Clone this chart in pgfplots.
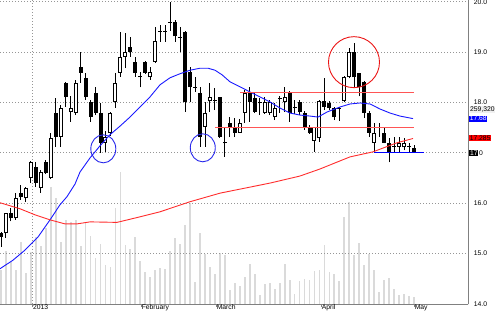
\documentclass[border=0pt]{standalone}
\usepackage{pgfplots}
\pgfplotsset{compat=1.18}
\usepackage{pgfplotstable}
\usepackage{fontspec}
\setmainfont{Liberation Sans}
\definecolor{volgray}{RGB}{218,218,218}
\definecolor{gridgray}{RGB}{150,150,150}
\definecolor{axgray}{RGB}{128,128,128}
\definecolor{maBlue}{RGB}{25,25,255}
\definecolor{maRed}{RGB}{255,45,45}
\definecolor{lnRed}{RGB}{255,85,85}
\definecolor{circRed}{RGB}{235,20,20}
\definecolor{circBlue}{RGB}{40,40,235}
\newcommand{\lblfont}{\fontsize{6.8}{7}\selectfont}

\pgfplotstableread{
k o h l c
1 15.40 15.81 15.31 15.80
3 15.70 16.20 15.67 16.10
5 16.10 16.33 16.03 16.30
6 16.50 16.83 16.40 16.81
8 16.30 16.66 16.21 16.62
10 16.50 17.40 16.48 17.29
12 17.32 17.95 17.12 17.90
14 17.81 18.12 17.62 17.90
15 17.80 18.45 17.75 18.39
21 17.20 17.43 17.02 17.31
22 17.40 17.82 17.34 17.80
23 18.00 18.59 17.90 18.39
24 18.59 19.39 18.51 18.90
25 18.90 19.38 18.68 19.00
30 18.50 18.71 18.45 18.61
31 18.80 19.49 18.78 19.22
41 17.51 18.00 17.12 17.80
42 18.02 18.38 17.82 18.10
48 17.40 17.68 17.39 17.60
49 17.80 18.25 17.60 18.19
53 17.80 18.10 17.78 18.00
54 17.80 18.05 17.75 18.00
55 17.71 17.98 17.65 17.90
57 18.00 18.31 17.82 18.10
63 17.24 17.52 17.02 17.51
64 17.29 18.05 17.22 18.02
69 18.02 18.52 18.00 18.50
70 18.50 19.08 18.48 19.01
75 17.20 17.59 17.02 17.40
80 17.12 17.32 17.02 17.20
81 17.11 17.29 17.05 17.20
}\up

\pgfplotstableread{
k o h l c
0 15.41 15.42 15.14 15.33
2 15.80 15.90 15.64 15.70
4 16.21 16.36 16.07 16.12
7 16.71 16.81 16.33 16.40
9 16.81 16.85 16.58 16.60
11 17.80 18.08 17.12 17.31
13 18.39 18.40 17.92 18.10
16 18.70 19.00 18.39 18.59
17 18.49 18.59 18.05 18.10
18 18.00 18.05 17.62 17.71
19 18.19 18.30 17.75 17.80
20 17.80 17.98 17.00 17.20
26 19.11 19.29 18.91 19.00
27 18.81 18.90 18.51 18.59
28 18.51 18.61 18.30 18.50
29 18.81 18.82 18.57 18.59
32 19.42 19.54 19.21 19.40
33 19.41 19.54 19.21 19.40
34 19.60 20.00 19.42 19.58
35 19.60 19.64 19.21 19.31
36 19.30 19.50 19.01 19.28
37 19.40 19.41 17.82 18.00
38 18.61 18.71 18.00 18.30
39 18.31 18.50 18.21 18.29
40 18.19 18.30 17.12 17.31
43 18.05 18.28 17.85 18.03
44 18.10 18.11 17.30 17.31
45 17.20 17.49 16.92 17.19
46 17.60 17.72 17.31 17.51
47 17.51 17.70 17.31 17.40
50 18.19 18.30 17.62 18.00
51 18.08 18.19 17.79 17.82
52 18.00 18.08 17.75 17.98
56 18.07 18.12 17.80 18.06
58 18.19 18.22 17.62 17.80
59 17.92 18.05 17.78 17.90
60 18.00 18.05 17.76 17.81
61 17.80 17.83 17.46 17.51
62 17.51 17.55 17.38 17.40
65 18.02 18.48 17.85 17.92
66 17.99 18.03 17.85 17.89
67 17.90 17.92 17.65 17.71
68 17.88 17.92 17.64 17.87
71 19.01 19.19 18.30 18.50
72 18.59 18.59 18.12 18.30
73 18.41 18.42 17.69 17.80
74 17.80 17.83 17.32 17.40
76 17.51 17.59 17.32 17.50
77 17.40 17.49 17.19 17.20
78 17.20 17.29 16.81 17.00
79 17.13 17.32 17.02 17.12
82 17.13 17.20 17.02 17.12
83 17.10 17.15 17.01 17.02
}\down

\pgfplotstableread{
k v
0 1326
1 2067
2 1638
3 1326
4 2430
5 1221
6 2040
7 2601
8 2274
9 2952
10 4575
11 4122
12 2430
13 3276
14 3210
15 3276
16 2262
17 3147
18 2652
19 1782
20 2340
21 1521
22 1431
23 3732
24 5160
25 2301
26 2145
27 2625
28 1677
29 1236
30 1065
31 1326
32 1392
33 1365
34 2067
35 2562
36 2328
37 3081
38 3927
39 870
40 2757
41 1950
42 1431
43 1170
44 1977
45 1911
46 546
47 831
48 702
49 1041
50 1548
51 1158
52 351
53 780
54 831
55 585
56 831
57 1560
58 936
59 390
60 897
61 975
62 936
63 1299
64 1326
65 2301
66 1260
67 1170
68 897
69 3405
70 3966
71 1911
72 2367
73 1521
74 1938
75 1326
76 456
77 936
78 1026
79 573
80 351
81 390
82 324
83 259
}\vol

\begin{document}
\begin{tikzpicture}
\useasboundingbox (0,0) rectangle (500bp,312bp);
\pgfplotsset{base/.style={width=468bp, height=304bp, scale only axis,
  at={(0,8bp)}, anchor=south west, xmin=-0.201, xmax=93.85, clip=false}}
% volume
\begin{axis}[base, ymin=0, ymax=11856, hide axis]
\addplot[ycomb, draw=volgray, line width=1.8bp] table[x=k, y=v] {\vol};
\end{axis}
% price
\begin{axis}[base, ymin=14, ymax=20.034,
  axis x line*=bottom, axis y line*=right,
  x axis line style={draw=axgray, line width=0.8bp},
  y axis line style={draw=axgray, line width=1bp},
  ytick={14,15,16,17,18,19,20},
  yticklabels={14.0,15.0,16.0,{},18.0,19.0,20.0},
  ytick style={draw=none},
  yticklabel style={font=\lblfont, anchor=west, inner sep=0pt, xshift=3.2bp},
  ymajorgrids, major grid style={draw=gridgray, line width=0.8bp, dash pattern=on 1bp off 2bp},
  xtick={6.29,28.14,43.21,64.31,83.0},
  xticklabels={2013,February,March,April,May},
  xtick style={draw=axgray, line width=0.7bp},
  tick align=outside, major tick length=2.5bp,
  xticklabel style={font=\lblfont, anchor=north west, inner sep=0pt, xshift=0.6bp, yshift=2.2bp},
  extra x ticks={6.29}, extra x tick labels={},
  extra x tick style={grid=major, major tick length=0pt},
]
% wicks
\addplot[draw=none, error bars/.cd, y dir=plus, y explicit, error mark=none,
  error bar style={draw=black, line width=1bp}]
  table[x=k, y=l, y error expr=\thisrow{h}-\thisrow{l}] {\up};
\addplot[draw=none, error bars/.cd, y dir=plus, y explicit, error mark=none,
  error bar style={draw=black, line width=1bp}]
  table[x=k, y=l, y error expr=\thisrow{h}-\thisrow{l}] {\down};
% down bodies
\addplot[draw=none, error bars/.cd, y dir=plus, y explicit, error mark=none,
  error bar style={draw=black, line width=4bp}]
  table[x=k, y=c, y error expr={max(\thisrow{o}-\thisrow{c},0.02)}] {\down};
% up bodies
\addplot[draw=none, error bars/.cd, y dir=plus, y explicit, error mark=none,
  error bar style={draw=black, line width=4bp}]
  table[x=k, y=o, y error expr=\thisrow{c}-\thisrow{o}] {\up};
\addplot[draw=none, error bars/.cd, y dir=plus, y explicit, error mark=none,
  error bar style={draw=white, line width=2bp}]
  table[x=k, y expr=\thisrow{o}+0.02, y error expr={max(\thisrow{c}-\thisrow{o}-0.04,0)}] {\up};
% moving averages
\addplot[maBlue, line width=0.9bp] coordinates {
(-0.20,14.70) (2.41,14.87) (4.82,15.07) (7.44,15.33) (9.85,15.67) (11.86,15.97)
(13.26,16.13) (14.87,16.38) (15.88,16.62) (17.89,16.90) (19.90,17.14) (21.90,17.36)
(23.91,17.53) (25.92,17.71) (27.93,17.91) (29.94,18.11) (31.95,18.35) (33.96,18.49)
(35.97,18.57) (37.98,18.64) (39.99,18.68) (41.60,18.68) (43.01,18.64) (44.41,18.55)
(46.02,18.41) (48.03,18.31) (50.04,18.21) (52.05,18.11) (54.06,18.01) (56.07,17.89)
(58.08,17.79) (60.09,17.75) (62.10,17.73) (63.71,17.71) (65.51,17.81) (68.13,17.91)
(70.14,17.97) (72.15,17.99) (74.16,17.97) (76.17,17.87) (78.18,17.79) (80.18,17.73)
(82.80,17.68)};
\addplot[maRed, line width=0.9bp] coordinates {
(-0.20,16.01) (3.82,15.89) (6.83,15.77) (9.85,15.67) (12.86,15.59) (15.27,15.59)
(17.89,15.63) (23.31,15.62) (27.93,15.73) (31.95,15.83) (37.98,16.03) (44.01,16.20)
(50.04,16.32) (54.06,16.40) (60.09,16.54) (64.11,16.68) (67.12,16.80) (70.14,16.92)
(74.76,17.02) (79.58,17.20) (82.80,17.285)};
% drawn levels
\addplot[lnRed, line width=0.9bp] coordinates {(48.03,18.20) (83.0,18.20)};
\addplot[lnRed, line width=0.9bp] coordinates {(43.01,17.50) (83.0,17.50)};
\addplot[blue, line width=1bp] coordinates {(75.02,17.00) (85.07,17.00)};
% circles
\draw[circRed, line width=0.9bp] (axis cs:70.94,18.80) circle[radius=25.5bp];
\draw[circBlue, line width=0.9bp] (axis cs:20.56,17.08) ellipse[x radius=12.5bp, y radius=14bp];
\draw[circBlue, line width=0.9bp] (axis cs:40.55,17.10) ellipse[x radius=12.5bp, y radius=14bp];
\coordinate (lb) at (axis cs:93.85,17.68);
\coordinate (lr) at (axis cs:93.85,17.285);
\coordinate (lk) at (axis cs:93.85,17.0);
\coordinate (lv) at (axis cs:93.85,17.865);
\end{axis}
\node[anchor=west, fill=gray!12, text=black, inner sep=0.5bp, font=\lblfont] at ([xshift=1.5bp]lv) {259,320};
\node[anchor=west, fill=blue, text=white, inner sep=0.6bp, font=\lblfont] at ([xshift=1bp]lb) {17.68};
\node[anchor=west, fill=red, text=black, inner sep=0.6bp, font=\lblfont] at ([xshift=1bp]lr) {17.285};
\node[anchor=west, fill=black, text=white, inner sep=0.8bp, font=\lblfont] (bk) at ([xshift=1bp]lk) {17};
\node[anchor=west, text=black, inner sep=0.3bp, font=\lblfont] at (bk.east) {0};
\end{tikzpicture}
\end{document}
